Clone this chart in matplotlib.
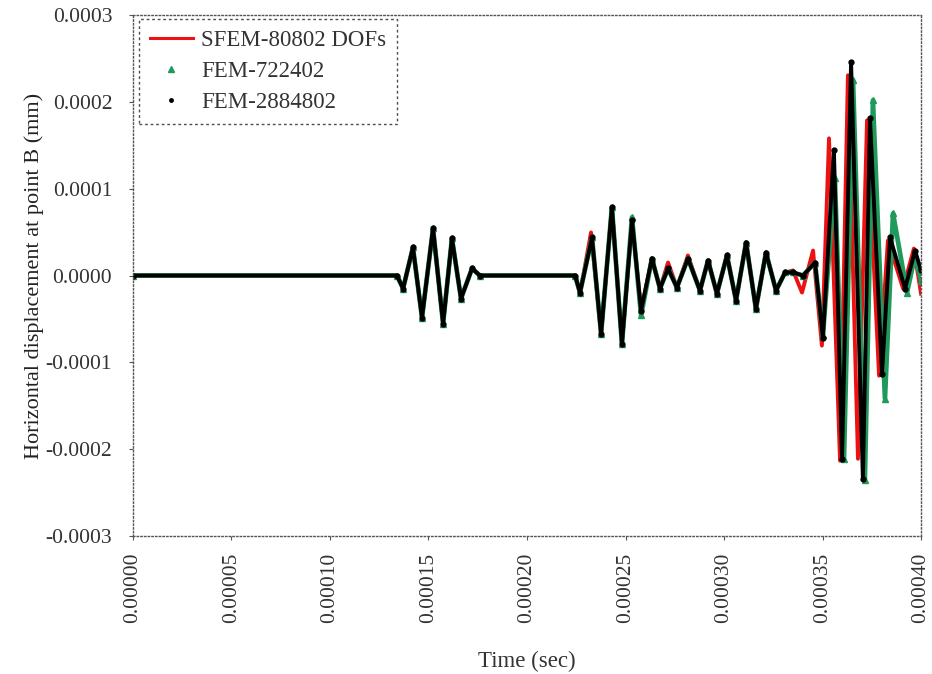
import matplotlib
matplotlib.use("Agg")
import matplotlib.pyplot as plt
from matplotlib.lines import Line2D
from matplotlib.ticker import FormatStrFormatter, MultipleLocator
import numpy as np

plt.rcParams["font.family"] = ["Liberation Serif", "DejaVu Serif"]

# time in units of 1e-5 s, displacement in units of 1e-5 mm
t_sfem = [0, 13.40, 13.71, 14.21, 14.67, 15.23, 15.74, 16.19, 16.65, 17.21,
          17.61, 22.44, 22.69, 23.25, 23.76, 24.31, 24.82, 25.33, 25.79, 26.34,
          26.75, 27.16, 27.61, 28.17, 28.78, 29.19, 29.64, 30.15, 30.61, 31.12,
          31.62, 32.13, 32.64, 33.10, 33.50, 33.96, 34.52, 34.97, 35.33, 35.89,
          36.29, 36.80, 37.26, 37.87, 38.32, 39.09, 39.64, 40.00]
u_sfem = [0, 0, -1.50, 3.23, -4.84, 5.42, -5.53, 4.27, -2.65, 0.81,
          0, 0, -2.08, 4.96, -6.69, 7.84, -7.84, 6.34, -4.04, 1.96,
          -1.50, 1.50, -1.38, 2.31, -1.73, 1.73, -2.08, 2.31, -2.88, 3.80,
          -3.84, 2.65, -1.73, 0.35, 0.58, -1.96, 2.88, -8.07, 15.80, -21.33,
          23.06, -21.10, 17.87, -11.53, 4.04, -1.50, 3.11, -2.08]

t_fem1 = [0, 13.40, 13.71, 14.21, 14.67, 15.23, 15.74, 16.19, 16.65, 17.21,
          17.61, 22.44, 22.69, 23.30, 23.76, 24.31, 24.82, 25.33, 25.79, 26.34,
          26.75, 27.16, 27.61, 28.17, 28.78, 29.19, 29.64, 30.15, 30.61, 31.12,
          31.62, 32.13, 32.64, 33.10, 33.50, 34.01, 34.62, 35.02, 35.63, 36.09,
          36.55, 37.15, 37.56, 38.17, 38.58, 39.29, 39.70, 40.00]
u_fem1 = [0, 0, -1.50, 3.23, -4.84, 5.42, -5.53, 4.27, -2.65, 0.81,
          0, 0, -1.96, 4.38, -6.69, 7.84, -7.84, 6.70, -4.60, 1.96,
          -1.50, 0.81, -1.38, 1.96, -1.73, 1.73, -2.08, 2.31, -2.88, 3.80,
          -3.84, 2.65, -1.73, 0.35, 0.35, 0, 1.50, -6.90, 11.20, -21.10,
          22.50, -23.60, 20.18, -14.18, 7.15, -1.96, 2.31, -0.58]

t_fem2 = [0, 13.40, 13.71, 14.21, 14.67, 15.23, 15.74, 16.19, 16.65, 17.21,
          17.61, 22.44, 22.69, 23.30, 23.76, 24.31, 24.82, 25.33, 25.79, 26.34,
          26.75, 27.16, 27.61, 28.17, 28.78, 29.19, 29.64, 30.15, 30.61, 31.12,
          31.62, 32.13, 32.64, 33.10, 33.50, 34.01, 34.62, 35.02, 35.58, 35.99,
          36.45, 37.05, 37.41, 38.02, 38.43, 39.19, 39.70, 40.00]
u_fem2 = [0, 0, -1.50, 3.23, -4.84, 5.42, -5.53, 4.27, -2.65, 0.81,
          0, 0, -1.96, 4.38, -6.69, 7.84, -7.84, 6.34, -4.04, 1.96,
          -1.50, 0.81, -1.38, 1.96, -1.73, 1.73, -2.08, 2.31, -2.88, 3.80,
          -3.84, 2.65, -1.73, 0.35, 0.35, 0, 1.50, -7.15, 14.41, -21.10,
          24.56, -23.41, 18.10, -11.30, 4.38, -1.50, 2.88, 0.58]

labels = ["SFEM-80802 DOFs", "FEM-722402", "FEM-2884802"]
RED, GREEN = "#ee1111", "#1f9a5c"

fig = plt.figure(figsize=(9.32, 6.74), dpi=100)
ax = fig.add_axes([0.1427, 0.2047, 0.8455, 0.773])

scale = 1e-5
ax.plot(np.array(t_sfem) * scale, np.array(u_sfem) * scale, color=RED, lw=2.8)
ax.plot(np.array(t_fem1) * scale, np.array(u_fem1) * scale, color=GREEN, lw=3.4,
        marker="^", ms=5)
ax.plot(np.array(t_fem2) * scale, np.array(u_fem2) * scale, color="black", lw=2.8,
        marker="o", ms=3.5)

ax.set_xlim(0, 0.0004)
ax.set_ylim(-0.0003, 0.0003)
ax.xaxis.set_major_locator(MultipleLocator(0.00005))
ax.yaxis.set_major_locator(MultipleLocator(0.0001))
ax.xaxis.set_major_formatter(FormatStrFormatter("%.5f"))
ax.yaxis.set_major_formatter(FormatStrFormatter("%.4f"))
ax.tick_params(axis="x", labelrotation=90, labelsize=15.5, length=3, pad=9,
               color="#555555")
ax.tick_params(axis="y", labelsize=15.5, length=3, pad=12, color="#555555")
for lab in ax.get_xticklabels() + ax.get_yticklabels():
    lab.set_color("#333333")

for sp in ax.spines.values():
    sp.set_linestyle(":")
    sp.set_color("#555555")
    sp.set_linewidth(1.0)

ax.set_xlabel("Time (sec)", fontsize=16.5, labelpad=20, color="#333333")
ax.set_ylabel("Horizontal displacement at point B (mm)", fontsize=16, labelpad=1,
              color="#222222")

handles = [
    Line2D([], [], color=RED, lw=2.2),
    Line2D([], [], color=GREEN, lw=0, marker="^", ms=4),
    Line2D([], [], color="black", lw=0, marker="o", ms=2.5),
]
leg = ax.legend(handles, labels, loc="upper left", bbox_to_anchor=(0.008, 0.992),
                borderaxespad=0, fontsize=16.5, frameon=True, fancybox=False,
                handlelength=1.9, handletextpad=0.35, labelspacing=0.45,
                borderpad=0.45)
frame = leg.get_frame()
frame.set_linestyle((0, (2, 2)))
frame.set_edgecolor("#222222")
frame.set_linewidth(1.0)
for txt in leg.get_texts():
    txt.set_color("#333333")

fig.savefig("out.png", dpi=100)
